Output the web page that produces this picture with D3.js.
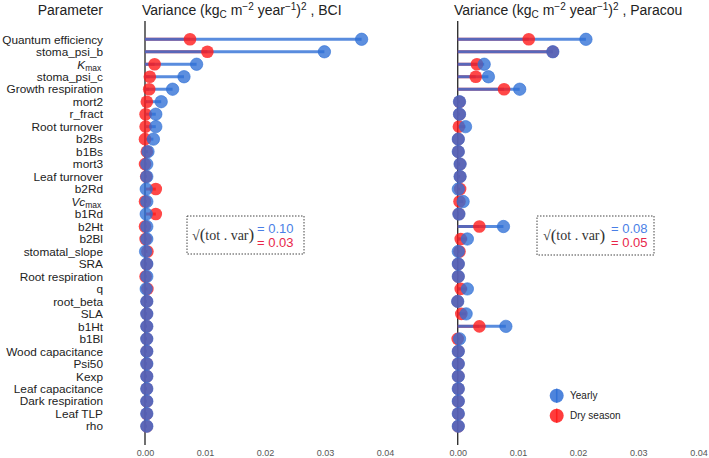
<!DOCTYPE html>
<html><head><meta charset="utf-8">
<script src="https://cdn.jsdelivr.net/npm/d3@7"></script>
<style>
html,body{margin:0;padding:0;background:#fff;}
svg{display:block;font-family:"Liberation Sans",Arial,Helvetica,sans-serif;}
</style></head>
<body>
<svg id="chart" width="709" height="458"></svg>
<script>
const params = ["Quantum efficiency","stoma_psi_b","Kmax","stoma_psi_c","Growth respiration","mort2","r_fract","Root turnover","b2Bs","b1Bs","mort3","Leaf turnover","b2Rd","Vcmax","b1Rd","b2Ht","b2Bl","stomatal_slope","SRA","Root respiration","q","root_beta","SLA","b1Ht","b1Bl","Wood capacitance","Psi50","Kexp","Leaf capacitance","Dark respiration","Leaf TLP","rho"];
const bciYearly = [0.0361,0.0299,0.0086,0.0065,0.0046,0.0027,0.0018,0.0018,0.0014,0.0005,0.0003,0.0003,0.0002,0.0003,0.0002,0.0003,0.0003,0.0001,0.0003,0.0003,0.0002,0.0003,0.0003,0.0003,0.0003,0.0003,0.0003,0.0003,0.0003,0.0003,0.0003,0.0003];
const bciDry    = [0.0075,0.0104,0.0016,0.0008,0.0007,0.0003,0.0001,0.0001,0.0000,0.0003,0.0000,0.0002,0.0018,0.0000,0.0018,0.0000,0.0001,0.0004,0.0003,0.0001,0.0004,0.0003,0.0003,0.0003,0.0003,0.0003,0.0003,0.0003,0.0003,0.0003,0.0003,0.0003];
const parYearly = [0.0213,0.0158,0.0044,0.0051,0.0103,0.0003,0.0003,0.0013,0.0001,0.0001,0.0004,0.0004,0.0001,0.0009,0.0002,0.0076,0.0016,0.0001,0.0001,0.0001,0.0016,0.0000,0.0014,0.0080,0.0003,0.0001,0.0001,0.0001,0.0001,0.0001,0.0001,0.0001];
const parDry    = [0.0118,0.0158,0.0032,0.0030,0.0077,0.0003,0.0003,0.0002,0.0001,0.0001,0.0004,0.0004,0.0004,0.0003,0.0002,0.0036,0.0005,0.0003,0.0001,0.0001,0.0005,0.0000,0.0006,0.0036,0.0000,0.0001,0.0001,0.0001,0.0001,0.0001,0.0001,0.0001];
const xTicks = [0,0.01,0.02,0.03,0.04];
const siteNames = ["BCI","Paracou"];
const totYearly = ["0.10","0.08"];
const totDry = ["0.03","0.05"];
const legendLabels = ["Yearly","Dry season"];

const BLUE = "#2f6fd6", RED = "#ff1a1a";
const svg = d3.select("#chart");
const y = d3.scalePoint().domain(params).range([39.3, 426.2]);

svg.append("text").attr("x",103).attr("y",15).attr("text-anchor","end")
  .attr("font-size",14).attr("fill","#222").text("Parameter");

const lab = svg.append("g").attr("font-size",11.8).attr("fill","#222");
params.forEach(p=>{
  const t = lab.append("text").attr("x",103).attr("y",y(p)).attr("dy","0.36em").attr("text-anchor","end");
  if(p==="Kmax" || p==="Vcmax"){
    t.append("tspan").attr("font-style","italic").text(p==="Kmax"?"K":"Vc");
    t.append("tspan").attr("font-size",8.5).attr("dy","2").text("max");
    t.append("tspan").attr("font-size",8.5).attr("dy","-2").text("\u2009");
  } else t.text(p);
});

const panels = [
  {range:[145,385], yearly:bciYearly, dry:bciDry, titleX:142, box:[187,216,117,38], sqrtX:192, eqX:257},
  {range:[457.7,698.5], yearly:parYearly, dry:parDry, titleX:454, box:[537,216,117,39], sqrtX:543, eqX:611}
];

panels.forEach((P,pi)=>{
  const x = d3.scaleLinear().domain([0,0.04]).range(P.range);
  const g = svg.append("g");
  const tt = g.append("text").attr("x",P.titleX).attr("y",15).attr("font-size",14).attr("fill","#222");
  tt.append("tspan").text("Variance (kg");
  tt.append("tspan").attr("font-size",10).attr("dy",3).text("C");
  tt.append("tspan").attr("dy",-3).text(" m");
  tt.append("tspan").attr("font-size",10).attr("dy",-5).text("\u22122");
  tt.append("tspan").attr("dy",5).text(" year");
  tt.append("tspan").attr("font-size",10).attr("dy",-5).text("\u22121");
  tt.append("tspan").attr("dy",5).text(")");
  tt.append("tspan").attr("font-size",10).attr("dy",-5).text("2");
  tt.append("tspan").attr("dy",5).text(" , "+siteNames[pi]);

  const ax = g.append("g").attr("transform","translate(0,456)")
    .call(d3.axisBottom(x).tickValues(xTicks).tickFormat(d3.format(".2f")).tickSize(0).tickPadding(0));
  ax.select(".domain").remove();
  ax.selectAll("text").attr("font-size",9).attr("fill","#555").attr("dy","0")
    .attr("font-family","'Liberation Sans',Arial,sans-serif");

  g.append("line").attr("x1",x(0)).attr("x2",x(0)).attr("y1",21).attr("y2",445)
    .attr("stroke","#333").attr("stroke-width",1.4);

  const rows = params.map((p,i)=>({p, yv:P.yearly[i], dv:P.dry[i]}));
  g.selectAll(".rs").data(rows).join("line").attr("x1",x(0)).attr("x2",d=>x(d.dv))
    .attr("y1",d=>y(d.p)).attr("y2",d=>y(d.p)).attr("stroke",RED).attr("stroke-opacity",0.8).attr("stroke-width",3);
  g.selectAll(".bs").data(rows).join("line").attr("x1",x(0)).attr("x2",d=>x(d.yv))
    .attr("y1",d=>y(d.p)).attr("y2",d=>y(d.p)).attr("stroke",BLUE).attr("stroke-opacity",0.8).attr("stroke-width",3);
  g.selectAll(".rc").data(rows).join("circle").attr("cx",d=>x(d.dv)).attr("cy",d=>y(d.p)).attr("r",6.3)
    .attr("fill",RED).attr("fill-opacity",0.8);
  g.selectAll(".bc").data(rows).join("circle").attr("cx",d=>x(d.yv)).attr("cy",d=>y(d.p)).attr("r",6.2)
    .attr("fill",BLUE).attr("fill-opacity",0.78).attr("stroke",BLUE).attr("stroke-opacity",0.6).attr("stroke-width",1);

  const [bx,by,bw,bh] = P.box;
  g.append("rect").attr("x",bx).attr("y",by).attr("width",bw).attr("height",bh)
    .attr("fill","#fff").attr("stroke","#444").attr("stroke-width",1).attr("stroke-dasharray","1.5,1.5");
  const st = g.append("text").attr("x",P.sqrtX).attr("y",by+bh/2).attr("dy","0.35em")
    .attr("font-family","'Liberation Serif','DejaVu Serif',serif").attr("font-size",14).attr("fill","#333");
  st.append("tspan").text("\u221A");
  st.append("tspan").attr("font-size",17).attr("dy",0.5).text("(");
  st.append("tspan").attr("font-size",14).attr("dy",-0.5).text("tot . var");
  st.append("tspan").attr("font-size",17).attr("dy",0.5).text(")");
  g.append("text").attr("x",P.eqX).attr("y",by+bh/2-7).attr("dy","0.36em").attr("font-size",13)
    .attr("fill","#4a7fe6").text("= "+totYearly[pi]);
  g.append("text").attr("x",P.eqX).attr("y",by+bh/2+7).attr("dy","0.36em").attr("font-size",13)
    .attr("fill","#e8264a").text("= "+totDry[pi]);
});

const lg = svg.append("g");
[BLUE,RED].forEach((c,i)=>{
  const cy = 395.7 + i*20;
  lg.append("circle").attr("cx",556.7).attr("cy",cy).attr("r",7).attr("fill",c).attr("fill-opacity",0.85);
  lg.append("line").attr("x1",556.7).attr("x2",556.7).attr("y1",cy-7).attr("y2",cy+7)
    .attr("stroke",c).attr("stroke-width",1.5).attr("stroke-opacity",0.9);
  lg.append("text").attr("x",570).attr("y",cy).attr("dy","0.35em").attr("font-size",10).attr("fill","#222").text(legendLabels[i]);
});
</script>
</body></html>
